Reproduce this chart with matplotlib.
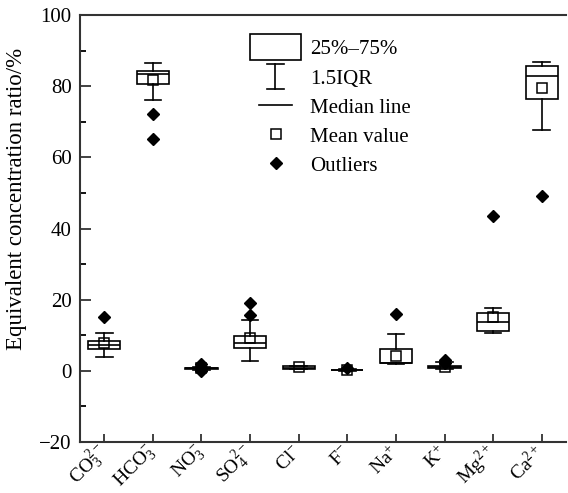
import matplotlib
matplotlib.use("Agg")
import matplotlib.pyplot as plt
from matplotlib.patches import Rectangle
from matplotlib.lines import Line2D
from matplotlib.ticker import MultipleLocator

plt.rcParams["font.family"] = ["Liberation Serif", "DejaVu Serif"]
plt.rcParams["mathtext.fontset"] = "custom"
plt.rcParams["mathtext.rm"] = "Liberation Serif"
plt.rcParams["mathtext.it"] = "Liberation Serif"
plt.rcParams["axes.unicode_minus"] = True

# ion labels
ions = [r"CO$_3^{2-}$", r"HCO$_3^{-}$", r"NO$_3^{-}$", r"SO$_4^{2-}$", r"Cl$^{-}$",
        r"F$^{-}$", r"Na$^{+}$", r"K$^{+}$", r"Mg$^{2+}$", r"Ca$^{2+}$"]

# box statistics (equivalent concentration ratio, %)
q1 = [6.1, 80.5, 0.5, 6.5, 0.6, 0.1, 2.1, 0.8, 11.3, 76.3]
med = [7.3, 83.3, 0.7, 7.7, 0.9, 0.2, 2.3, 1.0, 13.6, 82.8]
q3 = [8.4, 84.3, 0.9, 9.8, 1.3, 0.3, 6.0, 1.3, 16.3, 85.8]
whislo = [4.0, 76.1, 0.3, 2.8, 0.4, 0.0, 2.0, 0.6, 10.5, 67.6]
whishi = [10.5, 86.5, 1.1, 14.3, 1.5, 0.4, 10.3, 2.6, 17.8, 86.7]
means = [7.9, 81.6, 0.8, 9.3, 1.0, 0.3, 4.2, 1.1, 15.1, 79.6]
outliers = [[15.2], [72.1, 65.1], [1.8, 1.2, 0.4, -0.1], [19.1, 15.8], [],
            [0.9], [15.9], [3.0, 2.2], [43.6], [49.0]]

stats = []
for i in range(len(ions)):
    stats.append(dict(q1=q1[i], med=med[i], q3=q3[i], whislo=whislo[i],
                      whishi=whishi[i], mean=means[i], fliers=outliers[i]))

fig = plt.figure(figsize=(5.68, 4.93), dpi=100)
ax = fig.add_axes([0.1408, 0.1034, 0.8557, 0.8662])

lw = 1.2
ax.bxp(stats, positions=range(1, 11), widths=0.66, capwidths=0.34,
       showmeans=True, patch_artist=True,
       boxprops=dict(facecolor="white", edgecolor="black", linewidth=lw),
       medianprops=dict(color="black", linewidth=lw),
       whiskerprops=dict(color="black", linewidth=lw),
       capprops=dict(color="black", linewidth=lw),
       meanprops=dict(marker="s", markerfacecolor="none", markeredgecolor="black",
                      markersize=7, markeredgewidth=1.1),
       flierprops=dict(marker="D", markerfacecolor="black", markeredgecolor="black",
                       markersize=6))

ax.set_xlim(0.5, 10.5)
ax.set_ylim(-20, 100)
ax.yaxis.set_major_locator(MultipleLocator(20))
ax.yaxis.set_minor_locator(MultipleLocator(10))
ax.set_xticks(range(1, 11))
ax.set_xticklabels(ions, rotation=45, ha="right", va="center", rotation_mode="anchor")
ax.tick_params(axis="both", direction="in", width=1.3, color="#333333")
ax.tick_params(axis="y", which="major", length=8, pad=6, labelsize=15)
ax.tick_params(axis="y", which="minor", length=4, width=1.3, direction="in")
ax.tick_params(axis="x", which="major", length=6, pad=5, labelsize=14)
ax.tick_params(top=False, right=False)
ax.set_ylabel("Equivalent concentration ratio/%", fontsize=16.5)
ax.yaxis.set_label_coords(-0.11, 0.57)

ax.spines["right"].set_visible(False)
for s in ["left", "bottom", "top"]:
    ax.spines[s].set_linewidth(1.5)
    ax.spines[s].set_color("#333333")

# legend drawn by hand
T = ax.transAxes
ax.add_patch(Rectangle((0.350, 0.895), 0.105, 0.060, transform=T,
                       facecolor="white", edgecolor="black", linewidth=lw, zorder=5))
ax.add_line(Line2D([0.402, 0.402], [0.827, 0.885], transform=T, color="black", lw=lw))
ax.add_line(Line2D([0.385, 0.420], [0.885, 0.885], transform=T, color="black", lw=lw))
ax.add_line(Line2D([0.385, 0.420], [0.827, 0.827], transform=T, color="black", lw=lw))
ax.add_line(Line2D([0.368, 0.436], [0.789, 0.789], transform=T, color="black", lw=lw))
ax.add_line(Line2D([0.403], [0.721], transform=T, marker="s", markerfacecolor="none",
                   markeredgecolor="black", markersize=7, markeredgewidth=1.1))
ax.add_line(Line2D([0.403], [0.653], transform=T, marker="D", markerfacecolor="black",
                   markeredgecolor="black", markersize=6))
labels = ["25%\u201375%", "1.5IQR", "Median line", "Mean value", "Outliers"]
ys = [0.919, 0.848, 0.781, 0.713, 0.645]
for lab, y in zip(labels, ys):
    ax.text(0.473, y, lab, transform=T, fontsize=15, va="center", ha="left")

fig.savefig("out.png", dpi=100)
